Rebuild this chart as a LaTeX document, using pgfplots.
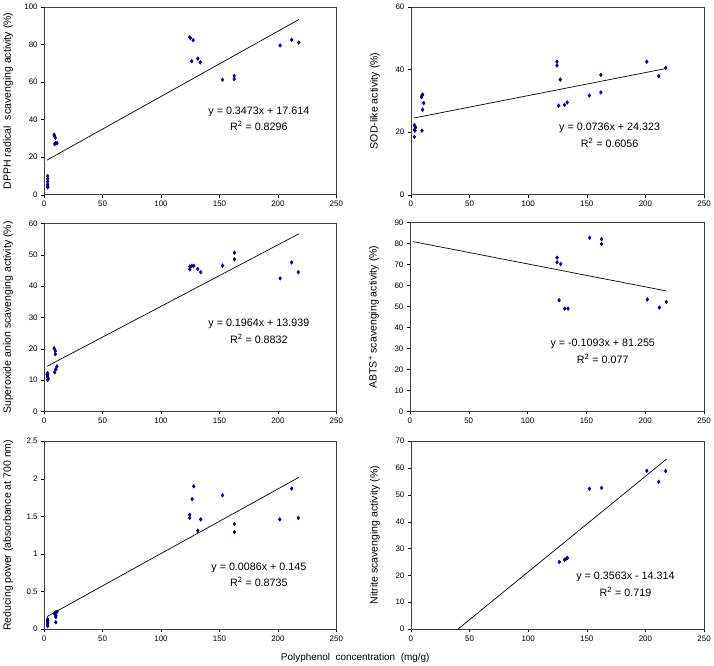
\documentclass[border=0pt]{standalone}
\usepackage{fontspec}
\setmainfont{Liberation Sans}
\usepackage{pgfplots}
\pgfplotsset{compat=1.18}
\definecolor{navy}{RGB}{0,0,128}
\pgfplotsset{
  panel/.style={scale only axis, height=189pt, xmin=0, xmax=250, xtick={0,50,...,250}, ymin=0,
    tick align=outside, tick pos=left, major tick length=3pt,
    tick style={black, line width=0.4pt},
    axis line style={black!75, line width=0.6pt},
    ticklabel style={font=\fontsize{8}{9}\selectfont},
    /pgf/number format/assume math mode=true,
    ylabel style={font=\fontsize{10.6}{11}\selectfont, at={(axis description cs:-0.123,0.5)}, anchor=center},
    clip=false},
  pts/.style={only marks, mark=diamond*, mark size=1.9pt, color=navy},
  fitl/.style={black, line width=0.7pt, no marks}
}
\tikzset{eq/.style={font=\fontsize{10.8}{12}\selectfont, anchor=center}}
\begin{document}
\begin{tikzpicture}
\path (0,0) rectangle (714pt,670pt);
% Panel 1: DPPH
\begin{axis}[panel, width=294pt, at={(40pt,474pt)}, anchor=south west,
  ymax=100, ytick={0,20,...,100},
  ylabel={DPPH radical\ \ scavenging activity (\%)}]
\addplot[pts] coordinates {(3,10.0) (3,8.5) (3,7.0) (3,5.5) (3,4.5) (3,4.0)
 (8.5,32.0) (9,31.2) (9.5,30.3) (9,27.0) (10,27.5) (11,27.5)
 (124.6,83.8) (125.2,83.4) (127.5,82.3) (126.3,71.1) (131.4,72.5) (133.6,70.5)
 (152.6,61.2) (162.6,63.3) (162.6,61.6) (201.9,79.5) (211.8,82.5) (217.8,81.0)};
\addplot[fitl] coordinates {(2.5,18.48) (218,93.33)};
\node[eq] at (axis cs:183.7,44.0) {y = 0.3473x + 17.614};
\node[eq] at (axis cs:183.7,36.7) {R\textsuperscript{2} = 0.8296};
\end{axis}
% Panel 2: SOD
\begin{axis}[panel, width=295pt, at={(409pt,474pt)}, anchor=south west,
  ymax=60, ytick={0,20,40,60},
  ylabel={SOD-like activity (\%)}]
\addplot[pts] coordinates {(3,22.3) (3.5,21.8) (4,21.5) (3,20.8) (3.5,20.5) (3,18.5)
 (9,31.2) (9.5,31.8) (10,32.0) (10,27.2) (11,29.3) (9.5,20.5)
 (124.6,42.5) (124.6,41.3) (126,28.5) (127.4,36.8) (131,28.7) (133.3,29.5)
 (152.2,31.7) (162,38.3) (162,32.7) (201.2,42.5) (211.4,37.9) (217.3,40.6)};
\addplot[fitl] coordinates {(2.5,24.51) (218,40.37)};
\node[eq] at (axis cs:169.5,21.3) {y = 0.0736x + 24.323};
\node[eq] at (axis cs:169.5,16.7) {R\textsuperscript{2} = 0.6056};
\end{axis}
% Panel 3: Superoxide
\begin{axis}[panel, width=294pt, at={(40pt,256pt)}, anchor=south west,
  ymax=60, ytick={0,10,...,60},
  ylabel={Superoxide anion scavenging activity (\%)}]
\addplot[pts] coordinates {(3,12.2) (2.5,11.8) (3,11.6) (3,11.0) (3.5,10.5) (3,10.1)
 (8.5,20.2) (9.5,19.3) (9.5,18.3) (9,12.5) (10,13.5) (11,14.4)
 (124.6,46.3) (124.6,45.4) (126.3,46.5) (128,46.5) (131.4,45.5) (134,44.5)
 (152.6,46.6) (162.8,50.7) (162.8,48.6) (201.9,42.5) (211.8,47.6) (217.4,44.5)};
\addplot[fitl] coordinates {(2.5,14.43) (218,56.75)};
\node[eq] at (axis cs:183.7,28.0) {y = 0.1964x + 13.939};
\node[eq] at (axis cs:183.7,23.2) {R\textsuperscript{2} = 0.8832};
\end{axis}
% Panel 4: ABTS
\begin{axis}[panel, width=296pt, at={(408pt,256pt)}, anchor=south west, height=190pt,
  ymax=90, ytick={0,10,...,90},
  ylabel={ABTS\textsuperscript{+} scavenging activity (\%)}]
\addplot[pts] coordinates {(125.1,73.3) (125.1,71.1) (128.2,70.3) (126.8,53.0) (131.6,49.0) (134.4,49.0)
 (152.8,82.8) (162.9,82.1) (162.9,79.8) (201.8,53.4) (212,49.5) (217.9,52.2)};
\addplot[fitl] coordinates {(2.5,80.98) (218,57.43)};
\node[eq] at (axis cs:163.9,32.2) {y = -0.1093x + 81.255};
\node[eq] at (axis cs:163.9,25.2) {R\textsuperscript{2} = 0.077};
\end{axis}
% Panel 5: Reducing power
\begin{axis}[panel, width=294pt, at={(40pt,37pt)}, anchor=south west,
  ymax=2.5, ytick={0,0.5,...,2.5},
  ylabel={Reducing power (absorbance at 700 nm)}]
\addplot[pts] coordinates {(3,0.13) (3,0.11) (3,0.09) (3,0.07) (3,0.05) (3,0.04)
 (9,0.20) (9.5,0.22) (10,0.18) (10,0.16) (10,0.09) (11,0.23)
 (124.6,1.52) (124.6,1.48) (126.6,1.73) (128,1.90) (131.4,1.31) (134,1.46)
 (152.6,1.78) (162.8,1.40) (162.8,1.29) (201.6,1.46) (211.8,1.87) (217.4,1.48)};
\addplot[fitl] coordinates {(2.5,0.167) (218,2.02)};
\node[eq] at (axis cs:183.7,0.82) {y = 0.0086x + 0.145};
\node[eq] at (axis cs:183.7,0.63) {R\textsuperscript{2} = 0.8735};
\end{axis}
% Panel 6: Nitrite
\begin{axis}[panel, width=295pt, at={(409pt,37pt)}, anchor=south west,
  ymax=70, ytick={0,10,...,70},
  ylabel={Nitrite scavenging activity (\%)}]
\addplot[pts] coordinates {(126.5,25.0) (131,25.8) (132.7,26.3) (133.5,26.5)
 (152.2,52.3) (162.6,52.6) (201.2,59.0) (211.4,54.9) (217.3,58.9)};
\addplot[fitl] coordinates {(40.17,0) (218,63.36)};
\node[eq] at (axis cs:183,19.4) {y = 0.3563x - 14.314};
\node[eq] at (axis cs:183,14.0) {R\textsuperscript{2} = 0.719};
\end{axis}
\node[font=\fontsize{10}{11}\selectfont] at (353pt,8pt) {Polyphenol\ \ concentration\ \ (mg/g)};
\end{tikzpicture}
\end{document}
